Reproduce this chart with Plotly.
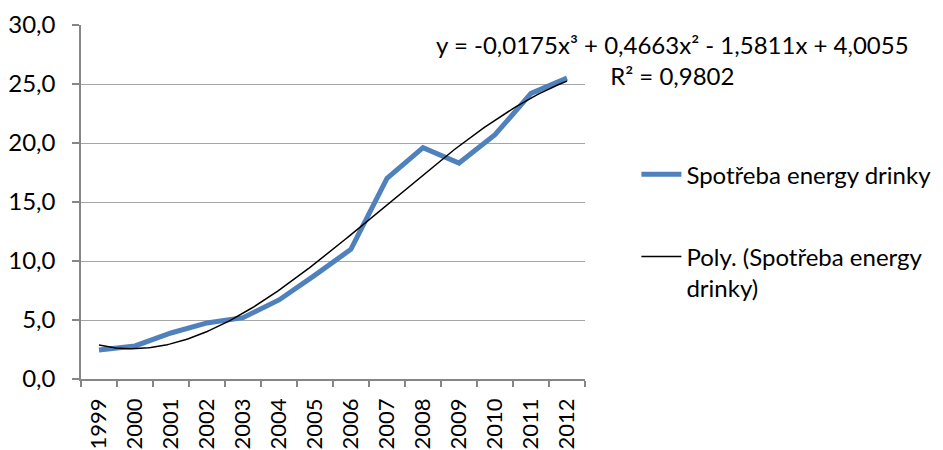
import numpy as np
import plotly.graph_objects as go

years = ["1999", "2000", "2001", "2002", "2003", "2004", "2005",
         "2006", "2007", "2008", "2009", "2010", "2011", "2012"]
consumption = [2.45, 2.8, 3.9, 4.75, 5.2, 6.7, 8.8, 11.0, 17.0, 19.6, 18.3, 20.7, 24.2, 25.5]
# coefficients of the cubic trend line, as printed on the chart
trend_coeffs = [-0.0175, 0.4663, -1.5811, 4.0055]
series_name = "Spotřeba energy drinky"
trend_name = "Poly. (Spotřeba energy<br>drinky)"
equation_text = "y = -0,0175x³ + 0,4663x² - 1,5811x + 4,0055<br>R² = 0,9802"

FONT = "Lato"
FS = 24
pos = np.arange(1, len(years) + 1)
xs = np.linspace(1, len(years), 200)
ys = np.polyval(trend_coeffs, xs)

fig = go.Figure()
fig.add_trace(go.Scatter(x=pos, y=consumption, mode="lines", name=series_name,
                         legendgroup="a",
                         line=dict(color="#4f81bd", width=5)))
fig.add_trace(go.Scatter(x=xs, y=ys, mode="lines", name=trend_name,
                         legendgroup="b",
                         line=dict(color="#000000", width=1.5)))

fig.update_layout(
    width=943, height=450,
    margin=dict(l=73, r=366, t=17, b=79),
    paper_bgcolor="white", plot_bgcolor="white",
    separators=", ",
    font=dict(family=FONT, size=FS, color="#000000"),
    showlegend=True,
    legend=dict(x=1.102, xanchor="left", y=0.641, yanchor="top",
                tracegroupgap=48, font=dict(family=FONT, size=FS),
                valign="top",
                bgcolor="rgba(0,0,0,0)", itemwidth=40),
    xaxis=dict(range=[0.5, len(years) + 0.5], tickmode="array",
               tickvals=list(pos), ticktext=years, tickangle=-90,
               ticks="", showgrid=False, zeroline=False, automargin=False,
               ticklabelstandoff=9,
               showline=True, linecolor="#868686", linewidth=1.5,
               minor=dict(tickmode="array",
                          tickvals=[p - 0.5 for p in list(pos) + [len(years) + 1]],
                          ticks="outside", ticklen=6, tickcolor="#868686",
                          tickwidth=1.5, showgrid=False),
               tickfont=dict(family=FONT, size=22)),
    yaxis=dict(range=[0, 30], dtick=5, tickformat=".1f", automargin=False,
               showgrid=True, gridcolor="#a6a6a6", gridwidth=1.2,
               zeroline=False, showline=True, linecolor="#868686", linewidth=1.5,
               ticks="outside", ticklen=7, tickcolor="#868686", tickwidth=1.5,
               ticklabelstandoff=12,
               tickfont=dict(family=FONT, size=FS)),
    annotations=[dict(text=equation_text, xref="paper", yref="paper",
                      x=1.173, y=0.90, xanchor="center", yanchor="middle",
                      align="center", showarrow=False,
                      font=dict(family=FONT, size=FS))],
)

fig.write_html("out.html")
